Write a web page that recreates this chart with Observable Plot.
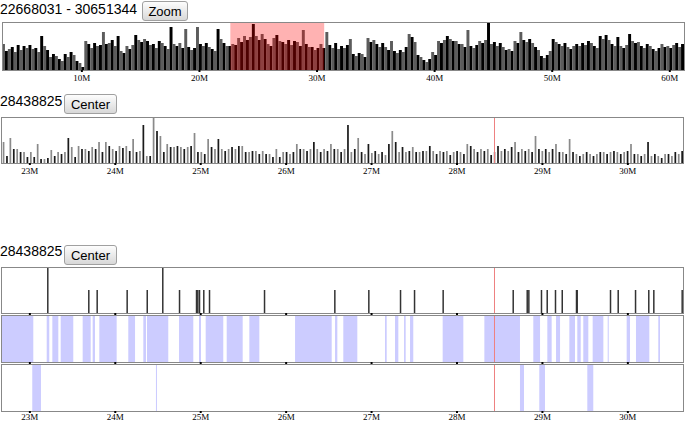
<!DOCTYPE html>
<html><head><meta charset="utf-8">
<script src="https://cdn.jsdelivr.net/npm/d3@7"></script>
<script src="https://cdn.jsdelivr.net/npm/@observablehq/plot@0.6"></script>
<style>
body{margin:0;background:#fff;}
#root{position:relative;width:685px;height:422px;overflow:hidden;font-family:"Liberation Sans",Arial,sans-serif;}
.lbl{position:absolute;left:0;font-size:14px;line-height:20px;height:20px;color:#000;white-space:nowrap;}
.btn{position:absolute;font-family:"Liberation Sans",Arial,sans-serif;font-size:13px;color:#000;background:linear-gradient(#fdfdfd,#d8d8d8);border:1px solid #a0a0a0;border-radius:3px;padding:0;box-sizing:border-box;}
.pl{position:absolute;left:0;}
.pl svg{overflow:hidden;background:transparent;}
</style></head>
<body><div id="root"></div>
<script>
// ---------- data ----------
const regionStart = 22668031, regionEnd = 30651344, centerPos = 28438825;
const overviewDomain = [3.25, 61.25];           // Mb
const overviewBinStart = 3.25, overviewBinSize = 0.25; // Mb
const overviewCounts = [
 26,19,21,23,18,25,20,24,22,25,21,22,18,34,24,20,13,16,14,11,9,16,13,18,15,9,7,3,29,
 26,22,27,24,25,38,26,27,30,24,34,19,17,24,21,25,35,30,28,31,29,25,26,22,29,27,24,21,43,
 26,24,27,22,41,23,20,22,43,26,24,27,23,21,19,41,31,27,24,
 24,26,25,32,28,34,30,33,46,34,30,36,31,26,24,32,35,29,28,26,30,25,29,28,24,40,26,23,
 23,20,22,26,22,38,25,22,27,21,24,22,25,31,16,14,17,16,13,32,28,30,26,23,27,23,20,29,
 19,17,20,18,23,36,33,28,15,13,10,8,11,18,15,29,27,30,34,31,29,
 29,26,26,23,40,24,22,25,29,27,30,47,26,28,24,27,23,20,21,19,29,27,38,30,28,31,27,23,20,
 14,12,15,19,31,28,26,24,27,23,21,24,26,24,27,25,29,27,24,22,34,31,35,30,26,24,33,24,22,25,
 36,29,27,28,24,22,26,24,21,19,22,26,23,24,22,25,27,23,26
];
const overviewTicks = [10, 20, 30, 40, 50, 60];

const detailCounts = [
 21,7,25,14,14,11,11,6,11,6,19,4,4,5,13,7,11,9,11,25,16,6,17,14,14,12,16,14,21,11,21,17,
 14,12,17,15,17,12,24,11,12,38,7,7,46,32,27,11,19,16,16,17,16,14,16,17,30,11,11,9,24,16,
 14,24,14,12,14,16,14,17,17,11,11,12,12,9,12,9,9,6,14,6,11,11,9,11,19,14,14,12,14,21,
 14,11,14,12,19,14,14,11,14,38,11,14,25,11,9,19,10,12,9,11,8,19,32,21,11,16,11,12,16,11,
 11,12,12,17,12,9,12,11,12,8,11,12,11,9,19,17,14,11,14,12,14,8,11,17,12,14,12,16,21,11,
 14,12,14,11,27,14,12,14,11,14,19,11,11,9,24,11,9,7,9,11,9,7,9,11,11,9,11,12,11,9,11,12,
 19,9,9,7,9,21,7,9,7,5,9,9,7,11,9,12
];
const detailTicks = [23, 24, 25, 26, 27, 28, 29, 30];

const variantPos = [23.210,23.690,23.788,24.139,24.374,24.556,24.752,24.951,24.966,24.986,25.036,25.103,
 25.747,26.570,26.968,27.339,27.503,27.838,28.658,28.822,28.841,28.989,29.056,29.153,29.232,29.399,29.407,
 29.797,29.887,30.090,30.245,30.304,30.636];
const variantLevel = [2,1,1,1,1,2,1,1,1,1,1,1,1,1,1,1,1,1,1,1,1,1,1,1,1,1,1,1,1,1,1,1,1];

const trackAStart = [22.668,23.203,23.269,23.367,23.624,23.741,23.819,24.158,24.334,24.377,24.752,24.986,
 25.064,25.310,25.575,26.110,26.578,26.675,27.163,27.280,27.386,27.456,27.838,28.326,28.899,29.063,29.165,
 29.321,29.414,29.484,29.594,29.770,29.992,30.101,30.362];
const trackAEnd = [23.046,23.233,23.339,23.514,23.718,23.768,24.022,24.237,24.365,24.626,24.919,25.009,
 25.270,25.497,25.692,26.539,26.605,26.839,27.183,27.319,27.405,27.494,28.080,28.743,28.978,29.114,29.212,
 29.387,29.454,29.543,29.719,29.782,30.031,30.257,30.382];
const trackBStart = [23.034,24.482,28.743,28.969,29.531];
const trackBEnd   = [23.136,24.494,28.790,29.036,29.601];

// ---------- build ----------
const root = document.getElementById("root");
function addText(txt, top){ const d=document.createElement("div"); d.className="lbl"; d.style.top=top+"px"; d.textContent=txt; root.appendChild(d); }
function addBtn(txt, left, top, w){ const b=document.createElement("button"); b.className="btn"; b.textContent=txt;
  Object.assign(b.style,{left:left+"px",top:top+"px",width:w+"px",height:"20px"}); root.appendChild(b); }
function addPlot(svg, top){
  const d=document.createElement("div"); d.className="pl"; d.style.top=top+"px"; d.appendChild(svg); root.appendChild(d); }

const R0 = regionStart/1e6, R1 = regionEnd/1e6, C = centerPos/1e6;
const fmt = d => d + "M";
const noLabel = () => "";
const axisStyle = {fontFamily:"Liberation Serif, serif", fontSize:"9px", background:"transparent"};
const red = "#ee8080";

addText(regionStart + " - " + regionEnd, -1.5);
addBtn("Zoom", 142, 1, 46);

const ov = overviewCounts.map((v,i)=>({a: overviewBinStart+i*overviewBinSize, b: overviewBinStart+(i+1)*overviewBinSize, v, c: i%2 ? "#000" : "#5c5c5c"}));
addPlot(Plot.plot({
  width:685, height:62, marginTop:1, marginBottom:13, marginLeft:2, marginRight:1,
  x:{domain:overviewDomain, axis:null, label:null}, y:{domain:[0,48], axis:null, label:null}, color:{type:"identity"},
  style:axisStyle,
  marks:[
    Plot.rectY(ov,{x1:"a",x2:"b",y:"v",fill:"c",inset:0}),
    Plot.rect([{a:R0,b:R1}],{x1:"a",x2:"b",y1:0,y2:48,fill:"red",fillOpacity:0.3}),
    Plot.frame({stroke:"#888"}),
    Plot.axisX(overviewTicks,{tickSize:2,tickPadding:2,strokeWidth:2,tickFormat:fmt,label:null})
  ]}), 21);

addText(String(centerPos), 91.2);
addBtn("Center", 64, 94, 53);

const nb = detailCounts.length, bw = (R1-R0)/nb;
const dt = detailCounts.map((v,i)=>({a:R0+i*bw, b:R0+(i+1)*bw, v, c: i%2 ? "#1a1a1a" : "#8a8a8a"}));
addPlot(Plot.plot({
  width:685, height:60, marginTop:1, marginBottom:13, marginLeft:1, marginRight:2,
  x:{domain:[R0,R1], axis:null, label:null}, y:{domain:[0,46], axis:null, label:null}, color:{type:"identity"},
  style:axisStyle,
  marks:[
    Plot.rectY(dt,{x1:"a",x2:"b",y:"v",fill:"c",insetLeft:1.7,insetRight:0}),
    Plot.ruleX([C],{stroke:red}),
    Plot.frame({stroke:"#888"}),
    Plot.axisX(detailTicks,{tickSize:2,tickPadding:2,strokeWidth:2,tickFormat:fmt,label:null})
  ]}), 116);

addText(String(centerPos), 241.2);
addBtn("Center", 64, 245, 53);

const variants = variantPos.map((p,i)=>({p, h:variantLevel[i]}));
addPlot(Plot.plot({
  width:685, height:50, marginTop:1, marginBottom:3, marginLeft:1, marginRight:2,
  x:{domain:[R0,R1], axis:null, label:null}, y:{domain:[0,2], axis:null, label:null},
  style:axisStyle,
  marks:[
    Plot.ruleX(variants,{x:"p",y1:0,y2:"h",stroke:"#333",strokeWidth:1.5}),
    Plot.ruleX([C],{stroke:red}),
    Plot.frame({stroke:"#888"}),
    Plot.axisX(detailTicks,{tickSize:2,strokeWidth:2,tickFormat:noLabel,label:null})
  ]}), 266);

const bandsA = trackAStart.map((s,i)=>({a:Math.max(s,R0), b:trackAEnd[i]}));
addPlot(Plot.plot({
  width:685, height:51, marginTop:1, marginBottom:3, marginLeft:1, marginRight:2,
  x:{domain:[R0,R1], axis:null, label:null}, y:{domain:[0,1], axis:null, label:null},
  style:axisStyle,
  marks:[
    Plot.rect(bandsA,{x1:"a",x2:"b",y1:0,y2:1,fill:"#ccccff"}),
    Plot.ruleX([C],{stroke:red}),
    Plot.frame({stroke:"#888"}),
    Plot.axisX(detailTicks,{tickSize:2,strokeWidth:2,tickFormat:noLabel,label:null})
  ]}), 314);

const bandsB = trackBStart.map((s,i)=>({a:s, b:trackBEnd[i]}));
addPlot(Plot.plot({
  width:685, height:59, marginTop:1, marginBottom:11, marginLeft:1, marginRight:2,
  x:{domain:[R0,R1], axis:null, label:null}, y:{domain:[0,1], axis:null, label:null},
  style:axisStyle,
  marks:[
    Plot.rect(bandsB,{x1:"a",x2:"b",y1:0,y2:1,fill:"#ccccff"}),
    Plot.ruleX([C],{stroke:red}),
    Plot.frame({stroke:"#888"}),
    Plot.axisX(detailTicks,{tickSize:2,tickPadding:0.5,strokeWidth:2,tickFormat:fmt,label:null})
  ]}), 363);
</script>
</body></html>
